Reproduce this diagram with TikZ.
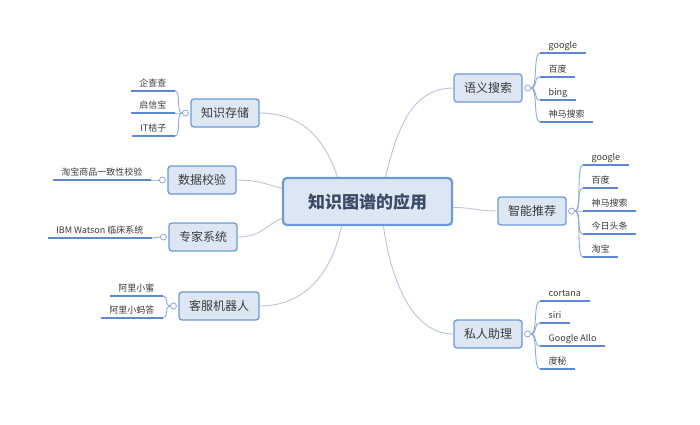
\documentclass[tikz,border=0pt]{standalone}
\usepackage{fontspec}
\newfontfamily\cjk{Noto Sans CJK SC}
\usepackage{xcolor}
\usetikzlibrary{positioning,calc}
\definecolor{boxfill}{HTML}{DDE7F4}
\definecolor{boxline}{HTML}{6A9AD6}
\definecolor{linkgray}{HTML}{B8C4DA}
\definecolor{linkblue}{HTML}{8EAAD6}
\definecolor{leafblue}{HTML}{5B8AD2}
\definecolor{textgray}{HTML}{3A3A3A}
\definecolor{titleblue}{HTML}{3B4A66}

\tikzset{
  root/.style={draw=boxline, line width=2.2pt, fill=boxfill, rounded corners=4pt,
    minimum width=169pt, minimum height=47pt, text=titleblue,
    font=\cjk\bfseries\fontsize{17}{17}\selectfont},
  topic/.style={draw=boxline, line width=1.3pt, fill=boxfill, rounded corners=3pt,
    minimum height=28pt, inner xsep=10pt, text=textgray,
    font=\cjk\fontsize{12}{12}\selectfont},
  leaf/.style={inner xsep=8.5pt, inner ysep=2.5pt, text height=7pt, text depth=2pt,
    text=textgray, font=\cjk\fontsize{9}{9}\selectfont},
  knob/.style={circle, draw=linkblue, fill=white, line width=0.8pt,
    inner sep=0pt, minimum size=6pt},
  link/.style={draw=linkgray, line width=0.9pt},
  twig/.style={draw=linkblue, line width=0.9pt},
  leafline/.style={draw=leafblue, line width=1.8pt},
}

\begin{document}
\begin{tikzpicture}[x=1pt,y=-1pt]
    \useasboundingbox (0,0) rectangle (700,424);

    % Centre
    \node[root] (app) at (367.5,201.5) {知识图谱的应用};

    % Topics
    \node[topic] (zs) at (225,113) {知识存储};
    \node[topic] (sj) at (202,180) {数据校验};
    \node[topic] (zj) at (203,237) {专家系统};
    \node[topic] (kf) at (219,306) {客服机器人};
    \node[topic] (yy) at (488,88) {语义搜索};
    \node[topic] (zn) at (532,211) {智能推荐};
    \node[topic] (sr) at (488,334) {私人助理};

    % Links to the centre
    \draw[link] (zs.east) .. controls +(45,0) and +(-12,-35) .. ([xshift=-30pt]app.north);
    \draw[link] (yy.west) .. controls +(-45,0) and +(10,-40) .. ([xshift=18pt]app.north);
    \draw[link] (kf.east) .. controls +(50,0) and +(-8,40) .. ([xshift=-26pt]app.south);
    \draw[link] (sr.west) .. controls +(-45,0) and +(6,45) .. ([xshift=16pt]app.south);
    \draw[link] (sj.east) .. controls +(22,0) and +(-15,-4) .. ([yshift=13pt]app.west);
    \draw[link] (zj.east) .. controls +(25,0) and +(-15,5) .. ([yshift=-17pt]app.west);
    \draw[link] (zn.west) .. controls +(-20,0) and +(20,0) .. ([yshift=-6pt]app.east);

    % Knobs
    \node[knob, left=1.5pt of zs] (zsk) {};
    \node[knob, left=1.5pt of sj] (sjk) {};
    \node[knob, left=1.5pt of zj] (zjk) {};
    \node[knob, left=1.5pt of kf] (kfk) {};
    \node[knob, right=1.5pt of yy] (yyk) {};
    \node[knob, right=1.5pt of zn] (znk) {};
    \node[knob, right=1.5pt of sr] (srk) {};

    % Leaves on the left
    \foreach \k/\n/\x/\y/\txt in {zsk/zs1/175/91/企查查, zsk/zs2/175/113/启信宝,
        zsk/zs3/175/136/IT桔子, sjk/sj1/151/180/淘宝商品一致性校验,
        zjk/zj1/152/238/IBM Watson 临床系统, kfk/kf1/163/296/阿里小蜜,
        kfk/kf2/163/318/阿里小蚂答} {
        \node[leaf, anchor=south east] (\n) at (\x,\y) {\txt};
        \draw[leafline] (\n.south west) -- (\n.south east);
        \draw[twig] (\k.west) .. controls +(-6,0) and +(6,0) .. (\n.south east);
    }

    % Leaves on the right
    \foreach \k/\n/\x/\y/\txt in {yyk/yy1/540/53/google, yyk/yy2/540/77/百度,
        yyk/yy3/540/100/bing, yyk/yy4/540/122/神马搜索,
        znk/zn1/583/165/google, znk/zn2/583/188/百度, znk/zn3/583/211/神马搜索,
        znk/zn4/583/234/今日头条, znk/zn5/583/257/淘宝,
        srk/sr1/540/301/cortana, srk/sr2/540/323/siri,
        srk/sr3/540/346/Google Allo, srk/sr4/540/369/度秘} {
        \node[leaf, anchor=south west] (\n) at (\x,\y) {\txt};
        \draw[leafline] (\n.south west) -- (\n.south east);
        \draw[twig] (\k.east) .. controls +(7,0) and +(-7,0) .. (\n.south west);
    }
\end{tikzpicture}
\end{document}
